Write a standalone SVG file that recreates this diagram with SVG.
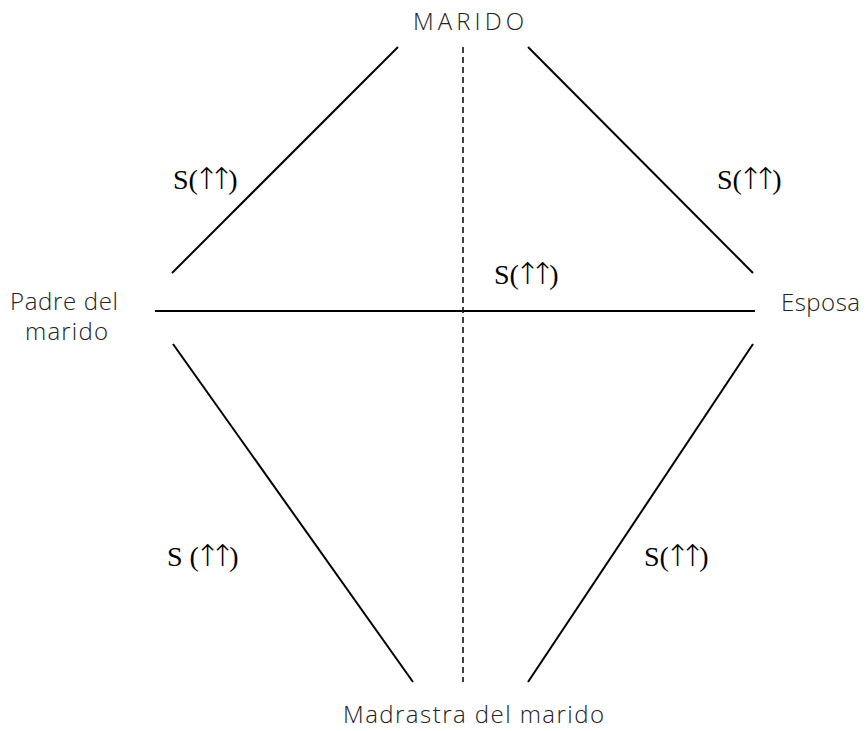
<svg xmlns="http://www.w3.org/2000/svg" width="867" height="731" viewBox="0 0 867 731">
<style>
.lbl{font-family:"Open Sans","DejaVu Sans",sans-serif;font-weight:300;font-size:24px;fill:#222}
.s{font-family:"Liberation Serif","DejaVu Serif",serif;font-size:28px;fill:#000}
.a{font-family:"DejaVu Sans",sans-serif;font-size:30px;font-weight:200;letter-spacing:-10px}
.ln{stroke:#000;stroke-width:2;fill:none}
.dash{stroke:#000;stroke-width:1.5;stroke-dasharray:6,4;fill:none}
</style>
<rect width="867" height="731" fill="#fff"/>
<g id="connectors">
<line class="ln" x1="172" y1="273" x2="398" y2="47"/>
<line class="ln" x1="528" y1="47" x2="753" y2="273"/>
<line class="ln" x1="155" y1="311" x2="755" y2="311"/>
<line class="ln" x1="173" y1="344" x2="413" y2="682"/>
<line class="ln" x1="753" y1="344" x2="528" y2="682"/>
<line class="dash" x1="463" y1="47" x2="463" y2="682"/>
</g>
<g id="node-marido"><text class="lbl" x="413" y="30" textLength="111">MARIDO</text></g>
<g id="node-padre"><text class="lbl" x="10" y="310" textLength="108">Padre del</text><text class="lbl" x="25" y="340" textLength="83">marido</text></g>
<g id="node-esposa"><text class="lbl" x="781" y="311" textLength="79">Esposa</text></g>
<g id="node-madrastra"><text class="lbl" x="343" y="723" textLength="261">Madrastra del marido</text></g>
<g id="labels">
<text class="s" x="173" y="189">S(<tspan class="a" dx="-4">↑↑</tspan><tspan dx="4">)</tspan></text>
<text class="s" x="717" y="189">S(<tspan class="a" dx="-4">↑↑</tspan><tspan dx="4">)</tspan></text>
<text class="s" x="494" y="284">S(<tspan class="a" dx="-4">↑↑</tspan><tspan dx="4">)</tspan></text>
<text class="s" x="167" y="566">S (<tspan class="a" dx="-4">↑↑</tspan><tspan dx="4">)</tspan></text>
<text class="s" x="644" y="566">S(<tspan class="a" dx="-4">↑↑</tspan><tspan dx="4">)</tspan></text>
</g>
</svg>
